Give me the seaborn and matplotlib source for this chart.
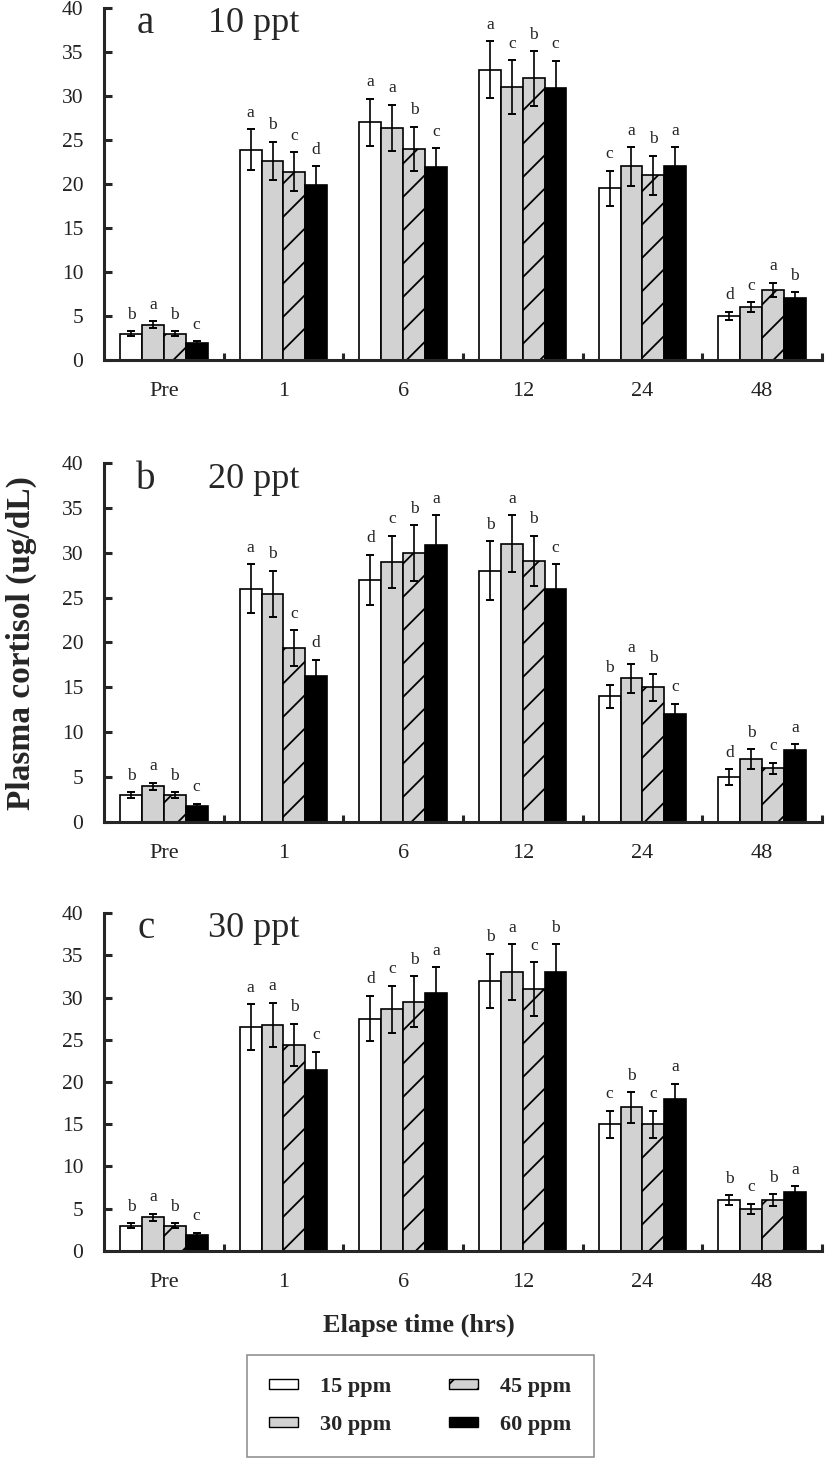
import numpy as np
import pandas as pd
import matplotlib
matplotlib.use("Agg")
import matplotlib.pyplot as plt
from matplotlib.patches import Patch
import seaborn as sns

# ---------------- data ----------------
times = ["Pre", "1", "6", "12", "24", "48"]
doses = ["15 ppm", "30 ppm", "45 ppm", "60 ppm"]
panel_tags = ["a", "b", "c"]
salinities = ["10 ppt", "20 ppt", "30 ppt"]

# rows: 15, 30, 45, 60 ppm ; columns: Pre, 1, 6, 12, 24, 48 h
mean_10ppt = [[3.0, 23.9, 27.0, 33.0, 19.5, 5.0],
              [4.0, 22.6, 26.4, 31.0, 22.0, 6.0],
              [3.0, 21.4, 24.0, 32.0, 21.0, 8.0],
              [1.9, 19.9, 21.9, 30.9, 22.0, 7.0]]
err_10ppt = [[0.3, 2.3, 2.7, 3.2, 2.0, 0.5],
             [0.4, 2.2, 2.6, 3.1, 2.2, 0.6],
             [0.3, 2.2, 2.5, 3.1, 2.2, 0.8],
             [0.25, 2.1, 2.2, 3.1, 2.2, 0.7]]
let_10ppt = [["b", "a", "a", "a", "c", "d"],
             ["a", "b", "a", "c", "a", "c"],
             ["b", "c", "b", "b", "b", "a"],
             ["c", "d", "c", "c", "a", "b"]]

mean_20ppt = [[3.0, 26.0, 27.0, 28.0, 14.0, 5.0],
              [4.0, 25.4, 29.0, 31.0, 16.0, 7.0],
              [3.0, 19.4, 30.0, 29.1, 15.0, 6.0],
              [1.8, 16.3, 30.9, 26.0, 12.0, 8.0]]
err_20ppt = [[0.3, 2.7, 2.8, 3.3, 1.3, 0.9],
             [0.4, 2.6, 2.9, 3.2, 1.6, 1.1],
             [0.3, 2.0, 3.1, 2.8, 1.5, 0.6],
             [0.25, 1.8, 3.3, 2.7, 1.2, 0.7]]
let_20ppt = [["b", "a", "d", "b", "b", "d"],
             ["a", "b", "c", "a", "a", "b"],
             ["b", "c", "b", "b", "b", "c"],
             ["c", "d", "a", "c", "c", "a"]]

mean_30ppt = [[3.0, 26.5, 27.5, 32.0, 15.0, 6.0],
              [4.0, 26.8, 28.6, 33.0, 17.0, 5.0],
              [3.0, 24.4, 29.5, 31.0, 15.0, 6.0],
              [1.9, 21.4, 30.5, 33.0, 18.0, 7.0]]
err_30ppt = [[0.3, 2.7, 2.7, 3.2, 1.6, 0.6],
             [0.4, 2.6, 2.8, 3.3, 1.8, 0.6],
             [0.3, 2.5, 3.0, 3.2, 1.6, 0.7],
             [0.25, 2.2, 3.1, 3.3, 1.8, 0.7]]
let_30ppt = [["b", "a", "d", "b", "c", "b"],
             ["a", "a", "c", "a", "b", "c"],
             ["b", "b", "b", "c", "c", "b"],
             ["c", "c", "a", "b", "a", "a"]]

means = [mean_10ppt, mean_20ppt, mean_30ppt]
errs = [err_10ppt, err_20ppt, err_30ppt]
lets = [let_10ppt, let_20ppt, let_30ppt]

bar_colors = ["#ffffff", "#d2d2d2", "#d2d2d2", "#000000"]
bar_hatches = [None, None, "/", None]

# ---------------- style ----------------
sns.set_style("ticks")
plt.rcParams["font.family"] = ["Liberation Serif", "DejaVu Serif"]
plt.rcParams["hatch.linewidth"] = 1.3
plt.rcParams["hatch.color"] = "#666666"

fig = plt.figure(figsize=(8.27, 14.59), dpi=100)
left, width = 0.1258, 0.868
boxes = [(0.7533, 0.2412), (0.4366, 0.2461), (0.1426, 0.2316)]

for p in range(3):
    ax = fig.add_axes([left, boxes[p][0], width, boxes[p][1]])
    rows = []
    for d, dose in enumerate(doses):
        for t, tm in enumerate(times):
            rows.append({"time": tm, "dose": dose, "value": means[p][d][t]})
    df = pd.DataFrame(rows)
    sns.barplot(data=df, x="time", y="value", hue="dose", order=times,
                hue_order=doses, palette=bar_colors, width=0.73,
                edgecolor="black", linewidth=1.2, errorbar=None,
                legend=False, ax=ax, saturation=1)
    bar_containers = list(ax.containers)
    for d, cont in enumerate(bar_containers):
        xs, tops = [], []
        for t, bar in enumerate(cont):
            if bar_hatches[d]:
                bar.set_hatch(bar_hatches[d])
            xs.append(bar.get_x() + bar.get_width() / 2)
            tops.append(bar.get_height())
        ax.errorbar(xs, tops, yerr=errs[p][d], fmt="none", ecolor="black",
                    elinewidth=1.2, capsize=3.2, capthick=1.4, zorder=5)
        for t in range(len(xs)):
            ax.annotate(lets[p][d][t], (xs[t], tops[t] + errs[p][d][t]),
                        xytext=(0, 6), textcoords="offset points",
                        ha="center", va="bottom", fontsize=12.5,
                        color="#222222")

    ax.set_xlim(-0.5, 5.5)
    ax.set_ylim(0, 40)
    ax.set_yticks(np.arange(0, 41, 5))
    ax.set_xlabel("")
    ax.set_ylabel("")
    sns.despine(ax=ax, top=True, right=True)
    for s in ["left", "bottom"]:
        ax.spines[s].set_linewidth(2.2)
    ax.tick_params(axis="y", direction="in", length=6, width=2.2,
                   labelsize=15.5, pad=15, labelcolor="#222222")
    ax.tick_params(axis="x", which="major", length=0, labelsize=16,
                   pad=16, labelcolor="#222222")
    ax.set_xticks(np.arange(0.5, 5.6, 1.0), minor=True)
    ax.tick_params(axis="x", which="minor", direction="in", length=5,
                   width=2.2)
    ax.set_facecolor("white")
    ax.text(0.058, 0.955, panel_tags[p], transform=ax.transAxes,
            fontsize=28, ha="center", va="center")
    ax.text(0.145, 0.955, salinities[p], transform=ax.transAxes,
            fontsize=26, ha="left", va="center")

fig.text(0.026, 0.559, "Plasma cortisol (ug/dL)", rotation=90,
         ha="center", va="center", fontsize=24, fontweight="bold")
fig.text(0.507, 0.0915, "Elapse time (hrs)", ha="center", va="center",
         fontsize=19, fontweight="bold")

handles = [Patch(facecolor=bar_colors[i], edgecolor="black", linewidth=1.0,
                 hatch=bar_hatches[i]) for i in range(4)]
leg = fig.legend(handles, doses, ncol=2, loc="center",
                 bbox_to_anchor=(0.508, 0.0363), frameon=True,
                 fancybox=False, edgecolor="#777777",
                 prop={"size": 16, "weight": "bold"},
                 handlelength=1.3, handleheight=0.35, handletextpad=1.0,
                 columnspacing=2.6, labelspacing=0.8, borderpad=1.0)
leg.get_frame().set_linewidth(1.2)

fig.savefig("out.png", dpi=100, facecolor="white")
